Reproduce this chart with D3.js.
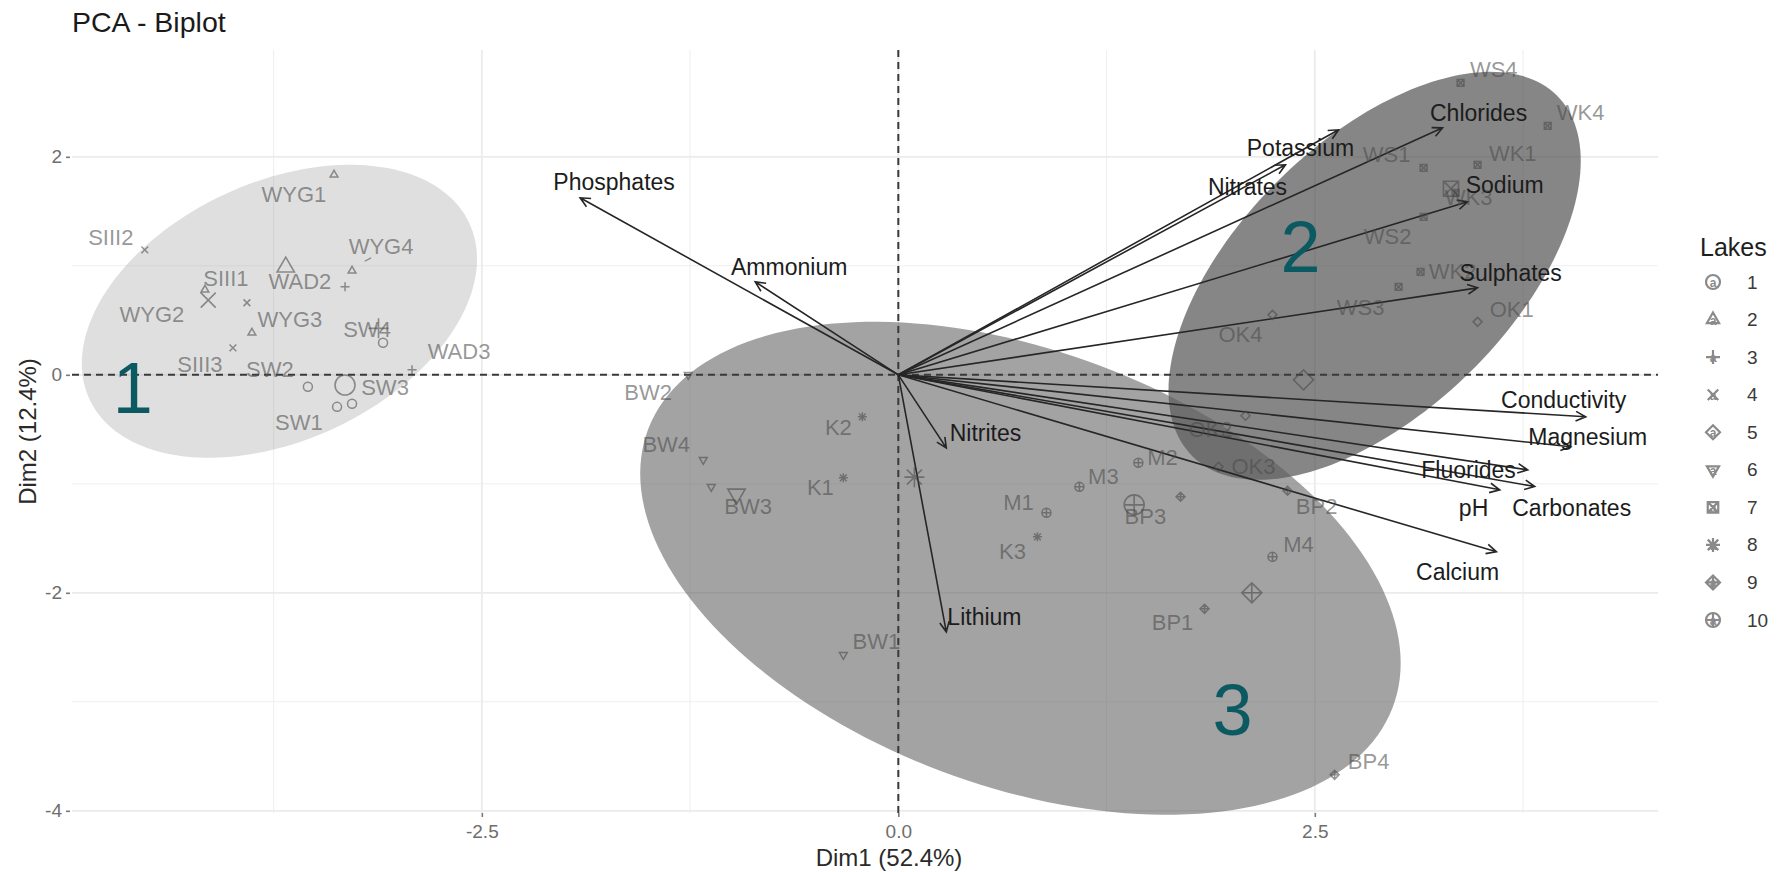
<!DOCTYPE html>
<html>
<head>
<meta charset="utf-8">
<script src="https://cdn.jsdelivr.net/npm/d3@7"></script>
<style>
  html, body { margin: 0; padding: 0; background: #ffffff; }
  svg { display: block; font-family: "Liberation Sans", Arial, Helvetica, sans-serif; }
</style>
</head>
<body>
<svg id="chart" width="1790" height="872"></svg>
<script>
// ---- Lakes (legend levels) ----
const lakes = ["1", "2", "3", "4", "5", "6", "7", "8", "9", "10"];

// ---- Individuals (sampling sites) ----
const sampleNames = [
  "SW1", "SW2", "SW3", "SW4",
  "WYG1", "WYG2", "WYG3", "WYG4",
  "WAD2", "WAD3",
  "SIII1", "SIII2", "SIII3",
  "OK1", "OK2", "OK3", "OK4",
  "BW1", "BW2", "BW3", "BW4",
  "WS1", "WS2", "WS3", "WS4", "WK1", "WK2", "WK3", "WK4",
  "K1", "K2", "K3",
  "M1", "M2", "M3", "M4",
  "BP1", "BP2", "BP3", "BP4"
];
const sampleLake = [
  "1", "1", "1", "1",
  "2", "2", "2", "2",
  "3", "3",
  "4", "4", "4",
  "5", "5", "5", "5",
  "6", "6", "6", "6",
  "7", "7", "7", "7", "7", "7", "7", "7",
  "8", "8", "8",
  "10", "10", "10", "10",
  "9", "9", "9", "9"
];
const sampleDim1 = [
  -3.369, -3.544, -3.279, -3.093,
  -3.387, -4.162, -3.880, -3.279,
  -3.321, -2.919,
  -3.910, -4.523, -3.994,
  3.477, 2.084, 1.922, 2.246,
  -0.330, -1.261, -1.123, -1.171,
  3.153, 3.153, 3.003, 3.375, 3.477, 3.135, 3.345, 3.898,
  -0.330, -0.216, 0.835,
  0.889, 1.441, 1.087, 2.246,
  1.838, 2.336, 1.694, 2.619
];
const sampleDim2 = [
  -0.294, -0.110, -0.266, 0.294,
  1.835, 0.780, 0.385, 0.954,
  0.807, 0.046,
  0.661, 1.147, 0.248,
  0.486, -0.376, -0.844, 0.550,
  -2.569, 0.000, -1.028, -0.780,
  1.899, 1.450, 0.807, 2.679, 1.927, 0.945, 1.670, 2.284,
  -0.945, -0.385, -1.486,
  -1.266, -0.807, -1.028, -1.670,
  -2.147, -1.064, -1.119, -3.670
];
// repelled label anchors, in Dim units
const sampleLabelDim1 = [
  -3.598, -3.772, -3.081, -3.189,
  -3.628, -4.480, -3.652, -3.105,
  -3.592, -2.637,
  -4.036, -4.727, -4.192,
  3.682, 1.874, 2.132, 2.054,
  -0.132, -1.502, -0.901, -1.393,
  2.931, 2.937, 2.775, 3.574, 3.688, 3.327, 3.423, 4.096,
  -0.468, -0.360, 0.685,
  0.721, 1.586, 1.231, 2.402,
  1.646, 2.511, 1.483, 2.823
];
const sampleLabelDim2 = [
  -0.440, 0.046, -0.119, 0.413,
  1.651, 0.550, 0.505, 1.174,
  0.853, 0.211,
  0.881, 1.257, 0.092,
  0.596, -0.505, -0.844, 0.367,
  -2.450, -0.165, -1.211, -0.642,
  2.018, 1.266, 0.615, 2.798, 2.028, 0.945, 1.624, 2.404,
  -1.037, -0.486, -1.624,
  -1.174, -0.761, -0.936, -1.560,
  -2.275, -1.211, -1.303, -3.550
];
const labelsWithSegment = ["WYG4"];

// ---- Variables (loadings drawn as arrows) ----
const variableNames = [
  "Phosphates", "Ammonium", "Potassium", "Nitrates", "Chlorides", "Sodium",
  "Sulphates", "Conductivity", "Magnesium", "Fluorides", "Carbonates", "pH",
  "Calcium", "Nitrites", "Lithium"
];
const variableDim1 = [
  -1.910, -0.859, 2.643, 2.324, 3.267, 3.417,
  3.477, 4.126, 4.036, 3.778, 3.820, 3.610,
  3.590, 0.288, 0.288
];
const variableDim2 = [
  1.624, 0.853, 2.248, 1.927, 2.266, 1.587,
  0.798, -0.385, -0.660, -0.872, -1.025, -1.055,
  -1.624, -0.670, -2.358
];
const variableLabelDim1 = [
  -1.706, -0.655, 2.414, 2.096, 3.483, 3.640,
  3.676, 3.994, 4.138, 3.423, 4.042, 3.453,
  3.357, 0.523, 0.517
];
const variableLabelDim2 = [
  1.771, 0.991, 2.083, 1.725, 2.404, 1.743,
  0.936, -0.229, -0.569, -0.872, -1.220, -1.220,
  -1.807, -0.532, -2.220
];

// ---- Clusters: ellipse centre and spread (Dim units) ----
const clusterNames = ["1", "2", "3"];
const clusterDim1 = [-3.715, 2.859, 0.733];
const clusterDim2 = [0.583, 0.908, -1.775];
const clusterVar1 = [1.407, 1.531, 5.209];
const clusterVar2 = [1.806, 3.503, 5.114];
const clusterCov = [0.569, 1.304, -1.984];
const clusterTextDim1 = [-4.595, 2.414, 2.006];
const clusterTextDim2 = [-0.119, 1.174, -3.073];

// ---- Axis ticks ----
const xMajorTicks = [-2.5, 0, 2.5];
const xMinorTicks = [-3.75, -1.25, 1.25, 3.75];
const yMajorTicks = [-4, -2, 0, 2];
const yMinorTicks = [-3, -1, 1];

// ================= drawing =================
const svg = d3.select("#chart");
const FONT = '"Liberation Sans", Arial, Helvetica, sans-serif';
const panel = { left: 72, right: 1658, top: 50, bottom: 813 };

const x = d3.scaleLinear().domain([-4.96, 4.56]).range([panel.left, panel.right]);
const y = d3.scaleLinear().domain([-4.02, 2.98]).range([panel.bottom, panel.top]);

svg.append("rect").attr("width", 1790).attr("height", 872).attr("fill", "#ffffff");

// title
svg.append("text")
  .attr("x", 72).attr("y", 32)
  .attr("font-size", 28.5).attr("fill", "#1a1a1a")
  .text("PCA - Biplot");

// grid
const grid = svg.append("g");
grid.selectAll(".gxm").data(xMinorTicks).join("line")
  .attr("x1", d => x(d)).attr("x2", d => x(d))
  .attr("y1", panel.top).attr("y2", panel.bottom)
  .attr("stroke", "#efefef").attr("stroke-width", 1.1);
grid.selectAll(".gym").data(yMinorTicks).join("line")
  .attr("x1", panel.left).attr("x2", panel.right)
  .attr("y1", d => y(d)).attr("y2", d => y(d))
  .attr("stroke", "#efefef").attr("stroke-width", 1.1);
grid.selectAll(".gx").data(xMajorTicks).join("line")
  .attr("x1", d => x(d)).attr("x2", d => x(d))
  .attr("y1", panel.top).attr("y2", panel.bottom)
  .attr("stroke", "#ebebeb").attr("stroke-width", 1.8);
grid.selectAll(".gy").data(yMajorTicks).join("line")
  .attr("x1", panel.left).attr("x2", panel.right)
  .attr("y1", d => y(d)).attr("y2", d => y(d))
  .attr("stroke", "#ebebeb").attr("stroke-width", 1.8);

// axes
const xAxis = svg.append("g")
  .attr("transform", `translate(0,${panel.bottom})`)
  .call(d3.axisBottom(x).tickValues(xMajorTicks).tickSize(4).tickPadding(8)
    .tickFormat(d => d.toFixed(1)));
const yAxis = svg.append("g")
  .attr("transform", `translate(${panel.left - 2},0)`)
  .call(d3.axisLeft(y).tickValues(yMajorTicks).tickSize(4).tickPadding(4)
    .tickFormat(d => String(d)));
[xAxis, yAxis].forEach(a => {
  a.select(".domain").remove();
  a.selectAll(".tick line").attr("stroke", "#7a7a7a").attr("stroke-width", 1.6);
  a.selectAll(".tick text").attr("fill", "#6e6e6e").attr("font-size", 19).attr("font-family", FONT);
});

svg.append("text")
  .attr("x", 889).attr("y", 866)
  .attr("text-anchor", "middle").attr("font-size", 24).attr("fill", "#2a2a2a")
  .text("Dim1 (52.4%)");
svg.append("text")
  .attr("transform", `translate(36,${(panel.top + panel.bottom) / 2}) rotate(-90)`)
  .attr("text-anchor", "middle").attr("font-size", 24).attr("fill", "#2a2a2a")
  .text("Dim2 (12.4%)");

// cluster ellipses
const clusters = clusterNames.map((n, i) => ({
  name: n, cx: clusterDim1[i], cy: clusterDim2[i],
  v1: clusterVar1[i], v2: clusterVar2[i], c: clusterCov[i],
  tx: clusterTextDim1[i], ty: clusterTextDim2[i]
}));
const ellipseStyle = [
  { fill: "#9a9a9a", opacity: 0.32 },
  { fill: "#404040", opacity: 0.634 },
  { fill: "#5f5f5f", opacity: 0.574 }
];
const ellipseLine = d3.line().x(p => x(p[0])).y(p => y(p[1])).curve(d3.curveLinearClosed);
function ellipsePoints(c) {
  const l11 = Math.sqrt(c.v1);
  const l21 = c.c / l11;
  const l22 = Math.sqrt(c.v2 - l21 * l21);
  return d3.range(0, 2 * Math.PI, Math.PI / 90).map(t =>
    [c.cx + l11 * Math.cos(t), c.cy + l21 * Math.cos(t) + l22 * Math.sin(t)]);
}
svg.append("g").selectAll("path").data(clusters).join("path")
  .attr("d", c => ellipseLine(ellipsePoints(c)))
  .attr("fill", (c, i) => ellipseStyle[i].fill)
  .attr("fill-opacity", (c, i) => ellipseStyle[i].opacity)
  .attr("stroke", "none");

// zero reference lines
svg.append("line")
  .attr("x1", panel.left).attr("x2", panel.right)
  .attr("y1", y(0)).attr("y2", y(0))
  .attr("stroke", "#3a3a3a").attr("stroke-width", 2).attr("stroke-dasharray", "7,5");
svg.append("line")
  .attr("x1", x(0)).attr("x2", x(0))
  .attr("y1", panel.top).attr("y2", panel.bottom)
  .attr("stroke", "#3a3a3a").attr("stroke-width", 2).attr("stroke-dasharray", "7,5");

// variable arrows
const variables = variableNames.map((n, i) => ({
  name: n, d1: variableDim1[i], d2: variableDim2[i],
  l1: variableLabelDim1[i], l2: variableLabelDim2[i]
}));
function arrowPath(v) {
  const x0 = x(0), y0 = y(0), x1 = x(v.d1), y1 = y(v.d2);
  const a = Math.atan2(y1 - y0, x1 - x0);
  const h = 11, w = Math.PI / 7;
  const ax = x1 - h * Math.cos(a - w), ay = y1 - h * Math.sin(a - w);
  const bx = x1 - h * Math.cos(a + w), by = y1 - h * Math.sin(a + w);
  return `M${x0},${y0}L${x1},${y1}M${ax},${ay}L${x1},${y1}L${bx},${by}`;
}
svg.append("g").selectAll("path").data(variables).join("path")
  .attr("d", arrowPath)
  .attr("fill", "none").attr("stroke", "#262626").attr("stroke-width", 1.6)
  .attr("stroke-linejoin", "miter");

// point shapes (R pch 1..10)
function shapePath(lake, r) {
  const k = 0.75 * r, s = 0.866 * r;
  const circle = `M${r},0A${r},${r} 0 1 1 ${-r},0A${r},${r} 0 1 1 ${r},0Z`;
  const plus = `M${-r},0H${r}M0,${-r}V${r}`;
  const cross = `M${-k},${-k}L${k},${k}M${-k},${k}L${k},${-k}`;
  const diamond = `M0,${-r}L${r},0L0,${r}L${-r},0Z`;
  switch (lake) {
    case "1": return circle;
    case "2": return `M0,${-r}L${s},${r * 0.5}L${-s},${r * 0.5}Z`;
    case "3": return plus;
    case "4": return cross;
    case "5": return diamond;
    case "6": return `M0,${r}L${s},${-r * 0.5}L${-s},${-r * 0.5}Z`;
    case "7": return `M${-k},${-k}H${k}V${k}H${-k}Z` + cross;
    case "8": return plus + cross;
    case "9": return diamond + plus;
    default: return circle + plus;
  }
}

const samples = sampleNames.map((n, i) => ({
  name: n, lake: sampleLake[i], d1: sampleDim1[i], d2: sampleDim2[i],
  l1: sampleLabelDim1[i], l2: sampleLabelDim2[i]
}));
const lakeMeans = lakes.map(l => {
  const g = samples.filter(s => s.lake === l);
  return { lake: l, d1: d3.mean(g, s => s.d1), d2: d3.mean(g, s => s.d2) };
});

const pointColor = "#4a4a4a";
const pointOpacity = 0.58;

// group mean points (larger)
svg.append("g").selectAll("path").data(lakeMeans).join("path")
  .attr("transform", d => `translate(${x(d.d1)},${y(d.d2)})`)
  .attr("d", d => shapePath(d.lake, 10))
  .attr("fill", "none").attr("stroke", pointColor)
  .attr("stroke-opacity", pointOpacity).attr("stroke-width", 1.6);

// individual points
svg.append("g").selectAll("path").data(samples).join("path")
  .attr("transform", d => `translate(${x(d.d1)},${y(d.d2)})`)
  .attr("d", d => shapePath(d.lake, 4.5))
  .attr("fill", "none").attr("stroke", pointColor)
  .attr("stroke-opacity", pointOpacity).attr("stroke-width", 1.5);

// label connectors
svg.append("g").selectAll("line")
  .data(samples.filter(s => labelsWithSegment.includes(s.name))).join("line")
  .attr("x1", d => x(d.d1) + 0.3 * (x(d.l1) - x(d.d1)) + 4)
  .attr("y1", d => y(d.d2) + 0.4 * (y(d.l2) - y(d.d2)))
  .attr("x2", d => x(d.l1) - 10)
  .attr("y2", d => y(d.l2) + 11)
  .attr("stroke", pointColor).attr("stroke-opacity", pointOpacity).attr("stroke-width", 1.3);

// point labels
svg.append("g").selectAll("text").data(samples).join("text")
  .attr("x", d => x(d.l1)).attr("y", d => y(d.l2))
  .attr("text-anchor", "middle").attr("dominant-baseline", "central")
  .attr("font-size", 22).attr("fill", pointColor).attr("fill-opacity", pointOpacity)
  .text(d => d.name);

// variable labels
svg.append("g").selectAll("text").data(variables).join("text")
  .attr("x", d => x(d.l1)).attr("y", d => y(d.l2))
  .attr("text-anchor", "middle").attr("dominant-baseline", "central")
  .attr("font-size", 23).attr("fill", "#1c1c1c")
  .text(d => d.name);

// cluster numbers
svg.append("g").selectAll("text").data(clusters).join("text")
  .attr("x", d => x(d.tx)).attr("y", d => y(d.ty))
  .attr("text-anchor", "middle").attr("dominant-baseline", "central")
  .attr("font-size", 72).attr("fill", "#0b5a62")
  .text(d => d.name);

// legend
const legend = svg.append("g");
legend.append("text")
  .attr("x", 1700).attr("y", 256)
  .attr("font-size", 25).attr("fill", "#1e1e1e")
  .text("Lakes");
const keyY = d3.scalePoint().domain(lakes).range([282, 620]);
const keys = legend.selectAll("g.key").data(lakes).join("g")
  .attr("class", "key")
  .attr("transform", l => `translate(1713,${keyY(l)})`);
keys.append("path")
  .attr("d", l => shapePath(l, 7))
  .attr("fill", "none").attr("stroke", "#8a8a8a").attr("stroke-width", 2.2);
keys.append("text")
  .attr("text-anchor", "middle").attr("dominant-baseline", "central")
  .attr("y", 1).attr("font-size", 12).attr("font-weight", "bold").attr("fill", "#8a8a8a")
  .text("a");
keys.append("text")
  .attr("x", 34).attr("dominant-baseline", "central")
  .attr("font-size", 19).attr("fill", "#3a3a3a")
  .text(l => l);
</script>
</body>
</html>
